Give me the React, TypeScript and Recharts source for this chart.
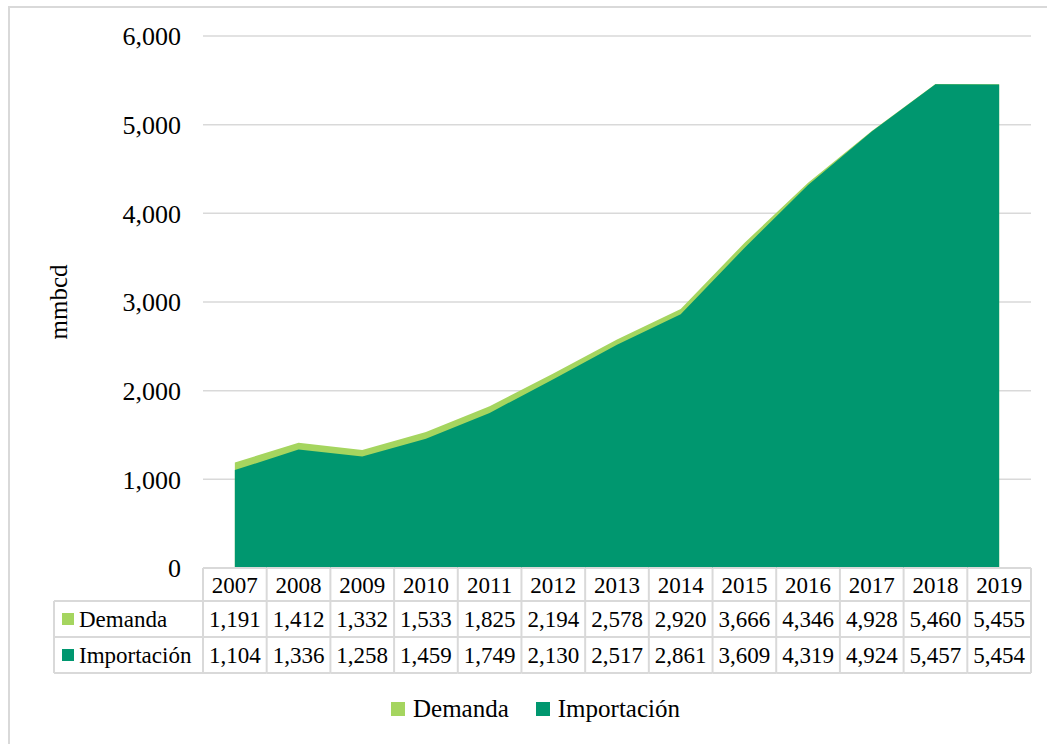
import { AreaChart, Area, XAxis, YAxis, CartesianGrid } from "recharts";

const years = ["2007", "2008", "2009", "2010", "2011", "2012", "2013", "2014", "2015", "2016", "2017", "2018", "2019"];
const demanda = [1191, 1412, 1332, 1533, 1825, 2194, 2578, 2920, 3666, 4346, 4928, 5460, 5455];
const importacion = [1104, 1336, 1258, 1459, 1749, 2130, 2517, 2861, 3609, 4319, 4924, 5457, 5454];
const seriesNames = ["Demanda", "Importación"];
const seriesColors = ["#A5D55F", "#00976F"];
const yTicks = [0, 1000, 2000, 3000, 4000, 5000, 6000];

const data = years.map((year, i) => ({ year, demanda: demanda[i], importacion: importacion[i] }));
const rows = [demanda, importacion];

const W = 1047;
const H = 744;
const M = { top: 36, right: 16, bottom: 66, left: 8 };
const Y_AXIS_W = 195;
const PLOT_LEFT = M.left + Y_AXIS_W;
const BAND = (W - M.right - PLOT_LEFT) / years.length;
const LABEL_LEFT = 54;

const FONT = '"Liberation Serif", "Times New Roman", serif';
const GRID = "#d9d9d9";

const fmt = (v: number) => v.toLocaleString("en-US");

// x axis tick draws the whole data table column under each category
function TableTick(props: any) {
  const { x, y, payload } = props;
  const i = years.indexOf(String(payload.value));
  const l = x - BAND / 2;
  const r = x + BAND / 2;
  const yH = y + 33;
  const y1 = y + 69;
  const y2 = y + 105;
  const ln = { stroke: GRID, strokeWidth: 2 };
  const txt = { fontFamily: FONT, fontSize: 23, fill: "#000" };
  return (
    <g>
      <line x1={l} x2={r} y1={y} y2={y} {...ln} />
      <line x1={l} x2={r} y1={yH} y2={yH} {...ln} />
      <line x1={l} x2={r} y1={y1} y2={y1} {...ln} />
      <line x1={l} x2={r} y1={y2} y2={y2} {...ln} />
      <line x1={r} x2={r} y1={y} y2={y2} {...ln} />
      {i === 0 && <line x1={l} x2={l} y1={y} y2={y2} {...ln} />}
      <text x={x} y={y + 25} textAnchor="middle" {...txt}>{payload.value}</text>
      {rows.map((row, k) => (
        <text key={k} x={x} y={y + 59 + 36 * k} textAnchor="middle" {...txt}>
          {fmt(row[i])}
        </text>
      ))}
      {i === 0 && (
        <g>
          <line x1={LABEL_LEFT} x2={l} y1={yH} y2={yH} {...ln} />
          <line x1={LABEL_LEFT} x2={l} y1={y1} y2={y1} {...ln} />
          <line x1={LABEL_LEFT} x2={l} y1={y2} y2={y2} {...ln} />
          <line x1={LABEL_LEFT} x2={LABEL_LEFT} y1={yH} y2={y2} {...ln} />
          {seriesNames.map((name, k) => (
            <g key={name}>
              <rect x={LABEL_LEFT + 8} y={yH + 12 + 36 * k} width={12} height={12} fill={seriesColors[k]} />
              <text x={LABEL_LEFT + 25} y={y + 59 + 36 * k} {...txt}>{name}</text>
            </g>
          ))}
        </g>
      )}
    </g>
  );
}

export default function App() {
  return (
    <div style={{ position: "fixed", left: 0, top: 0, width: W, height: H, overflow: "hidden", background: "#fff" }}>
      <div
        style={{
          position: "absolute",
          left: 8,
          top: 6,
          width: 1100,
          height: 800,
          border: `2px solid ${GRID}`,
          boxSizing: "border-box",
        }}
      />
      <AreaChart width={W} height={H} data={data} margin={M}>
        <CartesianGrid horizontal vertical={false} stroke={GRID} strokeWidth={1.5} />
        <XAxis
          dataKey="year"
          interval={0}
          axisLine={false}
          tickLine={false}
          tickSize={0}
          tickMargin={0}
          height={110}
          padding={{ left: BAND / 2, right: BAND / 2 }}
          tick={<TableTick />}
        />
        <YAxis
          width={Y_AXIS_W}
          domain={[0, 6000]}
          ticks={yTicks}
          tickFormatter={fmt}
          axisLine={false}
          tickLine={false}
          tickSize={0}
          tickMargin={22}
          tick={{ fontFamily: FONT, fontSize: 26, fill: "#000" }}
          label={{
            value: "mmbcd",
            angle: -90,
            position: "insideLeft",
            offset: 58 - M.left,
            style: { textAnchor: "middle", fontFamily: FONT, fontSize: 25, fill: "#000" },
          }}
        />
        <Area
          type="linear"
          dataKey="demanda"
          name={seriesNames[0]}
          stroke="none"
          fill={seriesColors[0]}
          fillOpacity={1}
          dot={false}
          activeDot={false}
          isAnimationActive={false}
        />
        <Area
          type="linear"
          dataKey="importacion"
          name={seriesNames[1]}
          stroke="none"
          fill={seriesColors[1]}
          fillOpacity={1}
          dot={false}
          activeDot={false}
          isAnimationActive={false}
        />
      </AreaChart>
      <div
        style={{
          position: "absolute",
          left: 391,
          top: 694,
          display: "flex",
          alignItems: "center",
          fontFamily: FONT,
          fontSize: 25,
          lineHeight: "30px",
          color: "#000",
        }}
      >
        {seriesNames.map((name, k) => (
          <div key={name} style={{ display: "flex", alignItems: "center", marginLeft: k === 0 ? 0 : 27 }}>
            <span style={{ display: "inline-block", width: 14, height: 14, background: seriesColors[k], marginRight: 8 }} />
            <span>{name}</span>
          </div>
        ))}
      </div>
    </div>
  );
}
